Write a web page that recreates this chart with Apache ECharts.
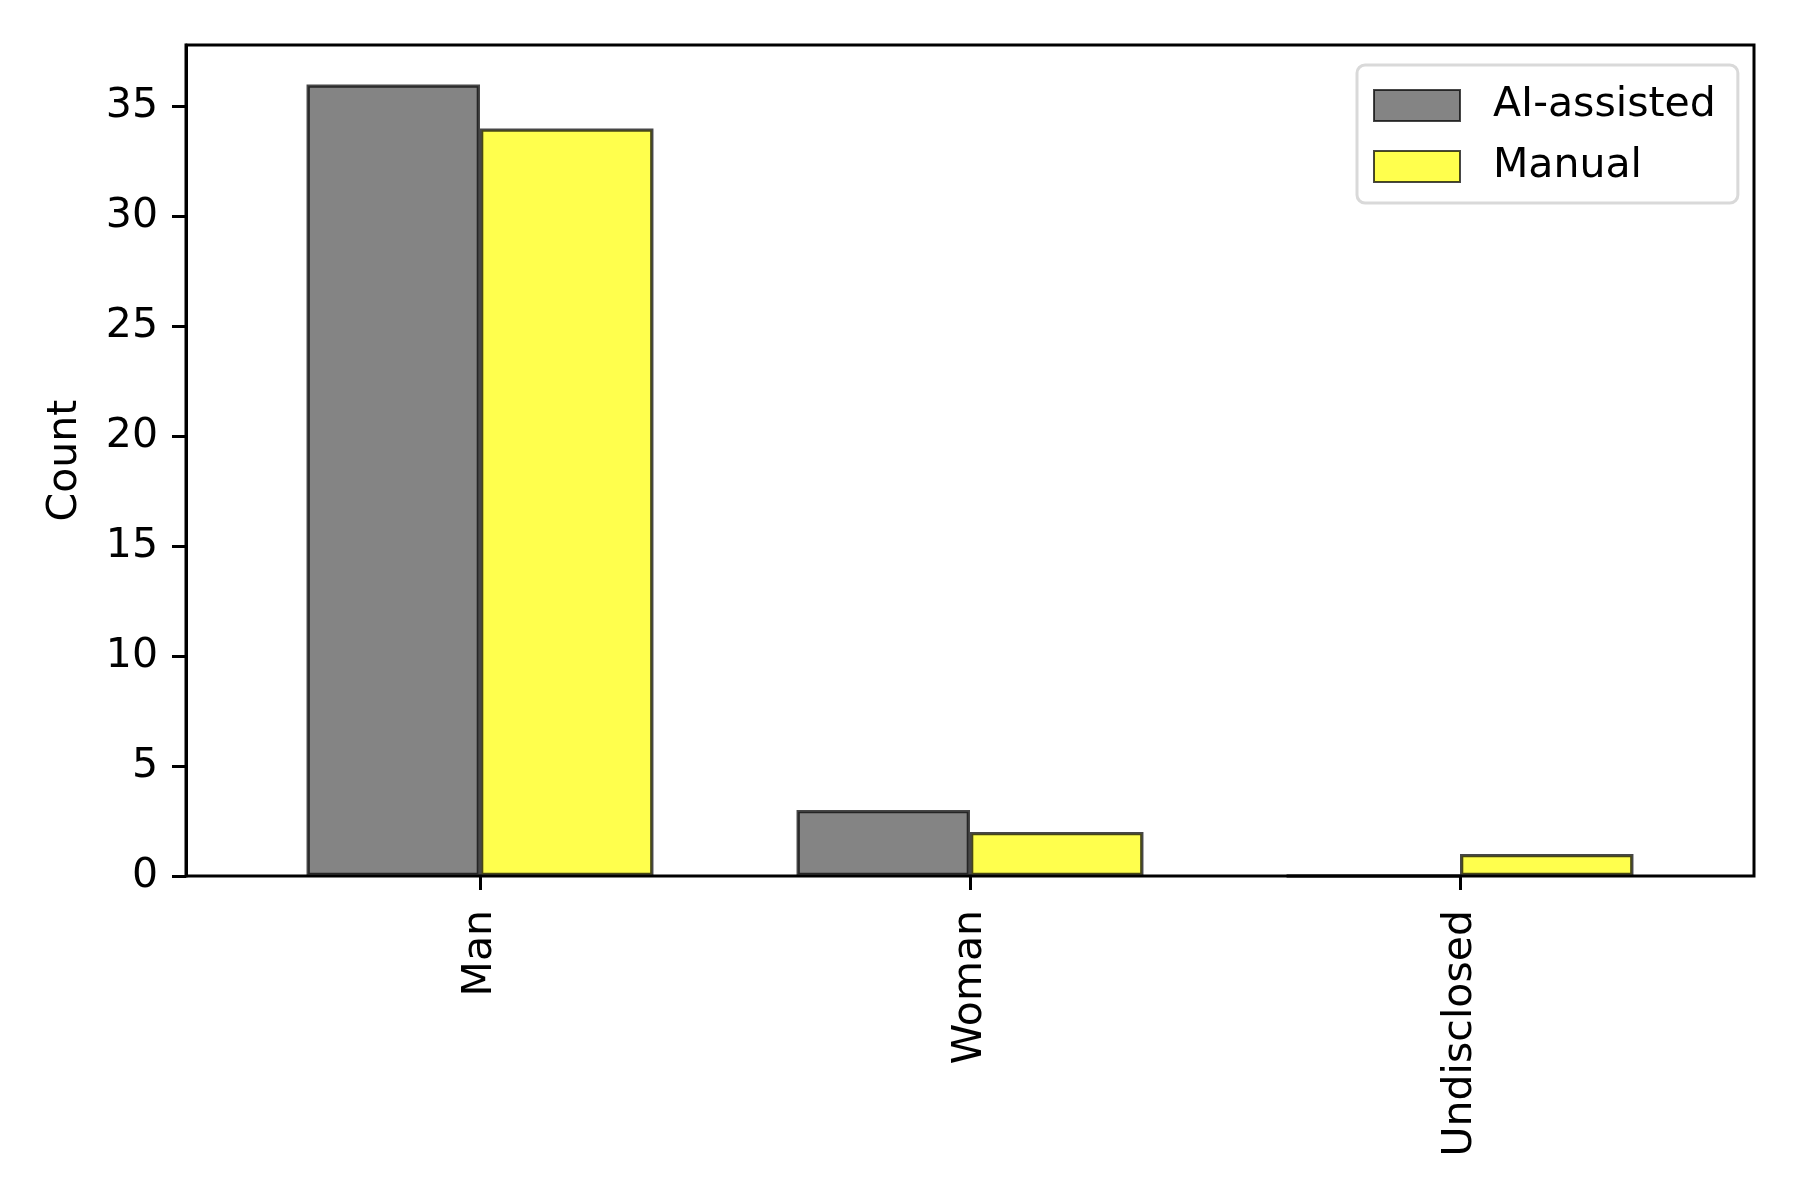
<!DOCTYPE html>
<html>
<head>
<meta charset="utf-8">
<script src="https://cdn.jsdelivr.net/npm/echarts@6/dist/echarts.min.js"></script>
<style>
  html, body { margin: 0; padding: 0; background: #fff; }
  #chart { width: 1800px; height: 1200px; }
</style>
</head>
<body>
<div id="chart"></div>
<script>
// data
var categories = ['Man', 'Woman', 'Undisclosed'];
var aiAssisted = [36, 3, 0];
var manual = [34, 2, 1];
var yTicks = [0, 5, 10, 15, 20, 25, 30, 35];

var font = 'DejaVu Sans';
var chart = echarts.init(document.getElementById('chart'), null, { renderer: 'canvas' });

var option = {
  backgroundColor: '#fff',
  textStyle: { fontFamily: font, color: '#000' },
  animation: false,
  grid: [
    // frame + y axis
    { left: 186, right: 46, top: 45, bottom: 324, show: true, borderColor: '#000', borderWidth: 3 },
    // bars, categories spaced like the reference
    { left: 235, right: 95, top: 45, bottom: 324 }
  ],
  xAxis: [
    { gridIndex: 0, type: 'value', min: 0, max: 1, show: false },
    {
      gridIndex: 1,
      type: 'category',
      data: categories,
      boundaryGap: true,
      axisLine: { show: false },
      axisTick: { show: true, alignWithLabel: true, length: 14, lineStyle: { color: '#000', width: 3 } },
      axisLabel: { rotate: 90, margin: 34, fontSize: 41, color: '#000', fontFamily: font }
    }
  ],
  yAxis: [
    {
      gridIndex: 0,
      type: 'value',
      min: 0,
      max: 37.8,
      interval: 5,
      name: 'Count',
      nameLocation: 'middle',
      nameGap: 100,
      nameTextStyle: { fontSize: 41, color: '#000', fontFamily: font },
      axisLine: { show: true, lineStyle: { color: '#000', width: 3 } },
      axisTick: { show: true, length: 14, lineStyle: { color: '#000', width: 3 } },
      axisLabel: {
        margin: 28, fontSize: 41, color: '#000', fontFamily: font, showMaxLabel: false,
        formatter: function (v) { return yTicks.indexOf(v) >= 0 ? String(v) : ''; }
      },
      splitLine: { show: false }
    },
    { gridIndex: 1, type: 'value', min: 0, max: 37.8, show: false }
  ],
  legend: {
    orient: 'vertical',
    left: 1357,
    top: 65,
    padding: [20, 22, 16, 16],
    itemWidth: 86,
    itemHeight: 31,
    itemGap: 20,
    icon: 'rect',
    backgroundColor: '#fff',
    borderColor: '#d9d9d9',
    borderWidth: 3,
    borderRadius: 8,
    textStyle: { fontSize: 41, color: '#000', fontFamily: font, lineHeight: 31, padding: [0, 0, 0, 28] },
    data: ['AI-assisted', 'Manual']
  },
  series: [
    {
      name: 'AI-assisted',
      type: 'bar',
      xAxisIndex: 1,
      yAxisIndex: 1,
      data: aiAssisted,
      barWidth: '35.4%',
      barGap: '0%',
      itemStyle: { color: '#848484', borderColor: 'rgba(0,0,0,0.72)', borderWidth: 3.3 }
    },
    {
      name: 'Manual',
      type: 'bar',
      xAxisIndex: 1,
      yAxisIndex: 1,
      data: manual,
      barWidth: '35.4%',
      barGap: '0%',
      itemStyle: { color: '#ffff4d', borderColor: 'rgba(0,0,0,0.72)', borderWidth: 3.3 }
    }
  ]
};

chart.setOption(option);
</script>
</body>
</html>
